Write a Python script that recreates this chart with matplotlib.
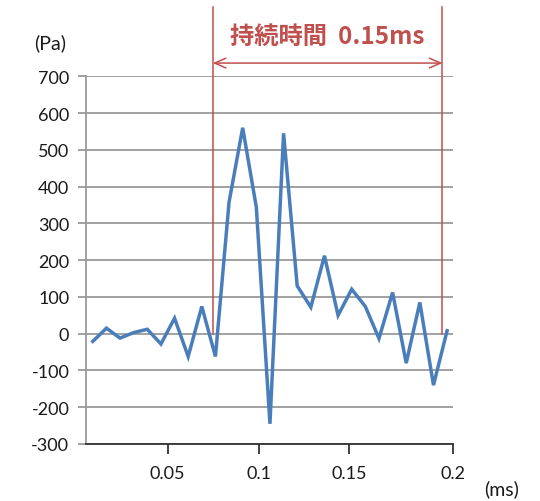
import matplotlib
matplotlib.use("Agg")
import matplotlib.pyplot as plt

plt.rcParams['font.family'] = ['Lato', 'DejaVu Sans']
plt.rcParams['axes.unicode_minus'] = False

# time (ms) of each sample
times = [0.00875, 0.01625, 0.02375, 0.03125, 0.03875, 0.04625, 0.05375, 0.06125,
         0.06875, 0.07625, 0.08375, 0.09125, 0.09875, 0.10625, 0.11375, 0.12125,
         0.12875, 0.13625, 0.14375, 0.15125, 0.15875, 0.16625, 0.17375, 0.18125,
         0.18875, 0.19625, 0.20375]
# pressure (Pa)
pressure = [-21, 15, -12, 3, 12, -28, 42, -62, 74, -62, 358, 560, 344, -245, 545,
            130, 72, 212, 50, 121, 74, -13, 112, -80, 85, -140, 8]

yticks = [-300, -200, -100, 0, 100, 200, 300, 400, 500, 600, 700]
xticks = [0.05, 0.1, 0.15, 0.207]
xtick_labels = ['0.05', '0.1', '0.15', '0.2']
dur_start, dur_end = 0.0748, 0.2012
title_text = '持続時間  0.15ms'

red = '#C0504D'
blue = '#4A7EBB'
grid = '#9A9A9A'

fig = plt.figure(figsize=(5.4, 5.02), dpi=100)
ax = fig.add_axes([86/540, 1-445/502, (453-86)/540, (445-77.3)/502])
ax.set_xlim(0.00501, 0.20694)
ax.set_ylim(-300, 700)

for v in yticks:
    ax.axhline(v, color=grid, lw=1.3, zorder=1)

ax.plot(times, pressure, color=blue, lw=2.5, zorder=3, solid_joinstyle='miter')

# duration markers
for xv in (dur_start, dur_end):
    ax.plot([xv, xv], [0, 888], color=red, lw=1.1, clip_on=False, zorder=2)
ax.annotate('', xy=(dur_start, 736), xytext=(dur_end, 736),
            arrowprops=dict(arrowstyle='<->,head_length=0.8,head_width=0.35',
                            color=red, lw=1.1, shrinkA=0, shrinkB=0),
            annotation_clip=False)
ax.text((dur_start + dur_end) / 2, 810, title_text, color=red, ha='center', va='center',
        fontsize=17.5, fontweight='bold', family=['Noto Sans CJK JP', 'DejaVu Sans'])

ax.set_yticks(yticks)
ax.set_xticks(xticks)
ax.set_xticklabels(xtick_labels)
ax.tick_params(axis='y', length=6, width=1.3, color=grid, pad=6, labelsize=13, labelcolor='#1a1a1a')
ax.tick_params(axis='x', length=7, width=1.3, color='#333333', pad=8, labelsize=13, labelcolor='#1a1a1a')

for s in ('top', 'right'):
    ax.spines[s].set_visible(False)
ax.spines['left'].set_color(grid)
ax.spines['left'].set_linewidth(1.3)
ax.spines['bottom'].set_color('#333333')
ax.spines['bottom'].set_linewidth(1.3)
ax.spines['bottom'].set_zorder(4)

fig.text(50/540, 1-43/502, '(Pa)', ha='center', va='center', fontsize=14, color='#1a1a1a')
fig.text(502/540, 1-489/502, '(ms)', ha='center', va='center', fontsize=14, color='#1a1a1a')

fig.savefig('out.png', dpi=100)
